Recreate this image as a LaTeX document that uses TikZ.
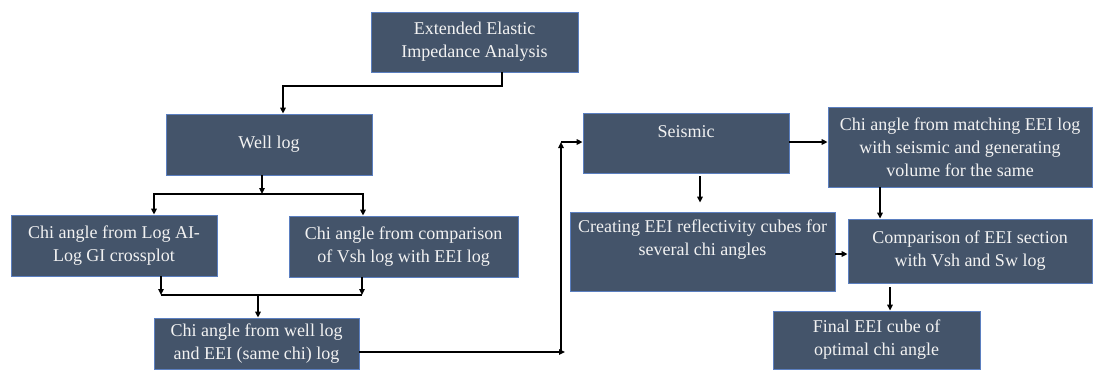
\documentclass[tikz,border=0pt]{standalone}
\usepackage{fontspec}
\setmainfont{Liberation Serif}
\newfontfamily\boxfont{Liberation Serif}
\usetikzlibrary{arrows.meta}
\definecolor{boxfill}{HTML}{44546A}
\definecolor{boxedge}{HTML}{5B7FC0}
\definecolor{boxtext}{HTML}{F2F2F2}
\begin{document}
\begin{tikzpicture}[x=1pt,y=-1pt,
  box/.style={draw=boxedge, line width=0.8pt, fill=boxfill, text=boxtext,
    align=center, inner sep=0pt, font=\boxfont\fontsize{18}{23}\selectfont},
  toptext/.style={text=boxtext, align=center, inner sep=0pt,
    font=\boxfont\fontsize{18}{23}\selectfont, anchor=north},
  arr/.style={line width=1.4pt, -{Triangle[length=6pt,width=5.5pt]}},
  ln/.style={line width=1.4pt}]
\useasboundingbox (0,0) rectangle (1093,370);
\fill[white] (0,0) rectangle (1093,370);

% process boxes
\node[box, minimum width=207pt, minimum height=60pt] (eei) at (474.5,42)
  {Extended Elastic\\Impedance Analysis};
\node[box, minimum width=206pt, minimum height=61pt] (wl) at (269,144.5) {Well log};
\node[box, minimum width=206pt, minimum height=61pt] (c1) at (114,245.5)
  {Chi angle from Log AI-\\Log GI crossplot};
\node[box, minimum width=229pt, minimum height=61pt] (c2) at (403.5,246.5)
  {Chi angle from comparison\\of Vsh log with EEI log};
\node[box, minimum width=205pt, minimum height=51pt] (cw) at (256.5,343.5)
  {Chi angle from well log\\and EEI (same chi) log};
\node[box, minimum width=206pt, minimum height=60pt,
  label={[toptext, yshift=-13pt]north:Seismic}] (seis) at (686,143) {};
\node[box, minimum width=264pt, minimum height=80pt] (cm) at (960,147)
  {Chi angle from matching EEI log\\with seismic and generating\\volume for the same};
\node[box, minimum width=265pt, minimum height=79pt,
  label={[toptext, yshift=-8.5pt]north:{Creating EEI reflectivity cubes for\\several chi angles}}]
  (cr) at (702.5,251.5) {};
\node[box, minimum width=244pt, minimum height=64pt] (cmp) at (970,251)
  {Comparison of EEI section\\with Vsh and Sw log};
\node[box, minimum width=207pt, minimum height=58pt] (fin) at (876.5,340)
  {Final EEI cube of\\optimal chi angle};

% routing points
\coordinate (k1) at (502,86);
\coordinate (k2) at (283,86);
\coordinate (j1) at (262,194);
\coordinate (j1l) at (154,194);
\coordinate (j1r) at (363,194);
\coordinate (j2l) at (161,295);
\coordinate (j2r) at (362,295);
\coordinate (j2) at (258,295);
\coordinate (r1) at (565,352);
\coordinate (r2) at (561,352);
\coordinate (r3) at (561,142);
\coordinate (s1) at (700,0);
\coordinate (m1) at (880,0);
\coordinate (h1) at (0,254);
\coordinate (f1) at (890,0);

% well-log branch
\draw[arr] (eei.south -| k1) -- (k1) -- (k2) -- (wl.north -| k2);
\draw[arr] (wl.south -| j1) -- (j1);
\draw[arr] (j1) -- (j1l) -- (c1.north -| j1l);
\draw[arr] (j1) -- (j1r) -- (c2.north -| j1r);
\draw[arr] (c1.south -| j2l) -- (j2l);
\draw[arr] (c2.south -| j2r) -- (j2r);
\draw[ln] (j2l) -- (j2r);
\draw[arr] (j2) -- (cw.north -| j2);

% link to the seismic branch
\draw[arr] (cw.east |- r1) -- (r1);
\draw[arr] (r2) -- (r3);
\draw[arr] (r3) -- (seis.west |- r3);

% seismic branch
\draw[arr] (seis.east |- r3) -- (cm.west |- r3);
\draw[arr, shorten <=3pt, shorten >=9pt] (seis.south -| s1) -- (cr.north -| s1);
\draw[arr] (cm.south -| m1) -- (cmp.north -| m1);
\draw[arr] (cr.east |- h1) -- (cmp.west |- h1);
\draw[arr, shorten <=4pt] (cmp.south -| f1) -- (fin.north -| f1);
\end{tikzpicture}
\end{document}
